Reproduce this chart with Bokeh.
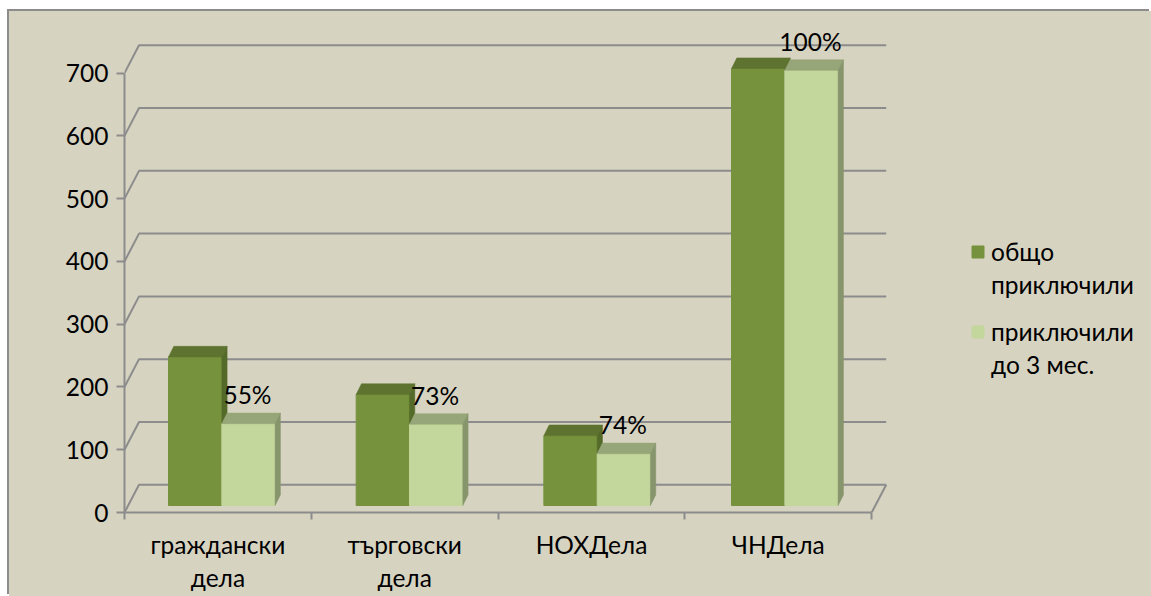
from bokeh.embed import file_html
from bokeh.resources import INLINE
from bokeh.plotting import figure
from bokeh.models import Range1d, FixedTicker, Legend, LegendItem, ColumnDataSource
from bokeh.core.properties import value

categories = ["граждански\nдела", "търговски\nдела", "НОХДела", "ЧНДела"]
total = [238, 178, 112, 700]
within3 = [131, 130, 83, 697]
pct = ["55%", "73%", "74%", "100%"]
y_ticks = [0, 100, 200, 300, 400, 500, 600, 700]
series_names = [["общо", "приключили"], ["приключили", "до 3 мес."]]

BG = "#d6d3c1"; AX = "#8c8c8c"; FONT = "Lato"; FS = "24.5px"
W, H = 1142, 585
L, B = 115, 84
PX_X = 186.8
PX_Y = 439.4 / 700
XMAX = (W - L) / PX_X
YMAX = (H - B) / PX_Y
DX, DY = 14.5 / PX_X, 27.8 / PX_Y        # wall depth
BDX, BDY = 5.3 / PX_X, 10.6 / PX_Y       # bar depth
BW = 53.3 / PX_X                         # bar width
BASE = 7 / PX_Y                          # bars stand on the floor
K = 437 / 439.4
PITCH = 1.0047
X0 = 0.5209

p = figure(width=W, height=H, output_backend="svg", toolbar_location=None,
           x_range=Range1d(0, XMAX), y_range=Range1d(0, YMAX),
           min_border_left=L, min_border_right=0, min_border_top=0, min_border_bottom=B,
           background_fill_color=BG, border_fill_color=BG, outline_line_color=None)
p.margin = (11, 0, 0, 9)
p.styles = {"box-shadow": "-2px -2px 0 #8c8c8c", "background-color": BG}
p.grid.visible = False

# back walls
xs, ys = [], []
for t in y_ticks:
    xs.append([0, DX, 4 + DX]); ys.append([t, t + DY, t + DY])
p.multi_line(xs, ys, line_color=AX, line_width=2)
p.line([4, 4 + DX], [0, DY], line_color=AX, line_width=2)

# axes
ya = p.yaxis[0]
ya.ticker = FixedTicker(ticks=y_ticks)
ya.bounds = (0, 700)
ya.axis_line_color = AX; ya.axis_line_width = 2
ya.major_tick_line_color = AX; ya.major_tick_line_width = 2
ya.major_tick_out = 8; ya.major_tick_in = 0
ya.minor_tick_line_color = None
ya.major_label_standoff = 8
ya.major_label_text_font = FONT; ya.major_label_text_font_size = FS; ya.major_label_text_color = "#000000"

xa = p.xaxis[0]
centers = [0.5 + i for i in range(4)]
xa.ticker = FixedTicker(ticks=centers, minor_ticks=[0, 1, 2, 3, 4])
xa.major_label_overrides = {c: n for c, n in zip(centers, categories)}
xa.bounds = (0, 4)
xa.axis_line_color = AX; xa.axis_line_width = 2
xa.major_tick_line_color = None; xa.major_tick_out = 0; xa.major_tick_in = 0
xa.minor_tick_line_color = AX; xa.minor_tick_line_width = 2
xa.minor_tick_out = 7; xa.minor_tick_in = 0
xa.major_label_standoff = 10
xa.major_label_text_font = FONT; xa.major_label_text_font_size = FS; xa.major_label_text_color = "#000000"
xa.major_label_text_line_height = 1.15

def bars(vals, shift, front, top, side):
    x0 = [X0 + i * PITCH + shift for i in range(4)]
    x1 = [x + BW for x in x0]
    t = [BASE + v * K for v in vals]
    r = p.quad(left=x0, right=x1, bottom=[BASE] * 4, top=t, fill_color=front,
               line_color=front, line_width=1)
    p.patches([[a, a + BDX, b + BDX, b] for a, b in zip(x0, x1)],
              [[y, y + BDY, y + BDY, y] for y in t],
              fill_color=top, line_color=top, line_width=0.5)
    p.patches([[b, b + BDX, b + BDX, b] for b in x1],
              [[BASE, BASE + BDY, y + BDY, y] for y in t],
              fill_color=side, line_color=side, line_width=0.5)
    return r, x0, x1, t

r1, *_ = bars(total, -BW, "#76923c", "#5e732f", "#546a29")
r2, x0, x1, t = bars(within3, 0, "#c3d69b", "#96a678", "#87956c")

src = ColumnDataSource(dict(x=[a + BW / 2 for a in x0], y=t, s=pct))
p.text("x", "y", text="s", source=src, text_align="center", text_baseline="middle",
       x_offset=-1, y_offset=-29, text_font=value(FONT), text_font_size=FS, text_color="#000000")

blank = p.quad(left=[], right=[], bottom=[], top=[], fill_alpha=0, line_alpha=0)
def legend(names, rend, loc):
    p.add_layout(Legend(items=[LegendItem(label=names[0], renderers=[rend]),
                               LegendItem(label=names[1], renderers=[blank])],
                        location=loc, orientation="vertical",
                        background_fill_alpha=0, border_line_color=None,
                        glyph_width=15, glyph_height=15, label_standoff=6, spacing=4,
                        padding=0, margin=0,
                        label_text_font=FONT, label_text_font_size=FS, label_text_color="#000000"))
legend(series_names[0], r1, (846, 213))
legend(series_names[1], r2, (846, 133))

open("out.html", "w").write(file_html(p, INLINE))
